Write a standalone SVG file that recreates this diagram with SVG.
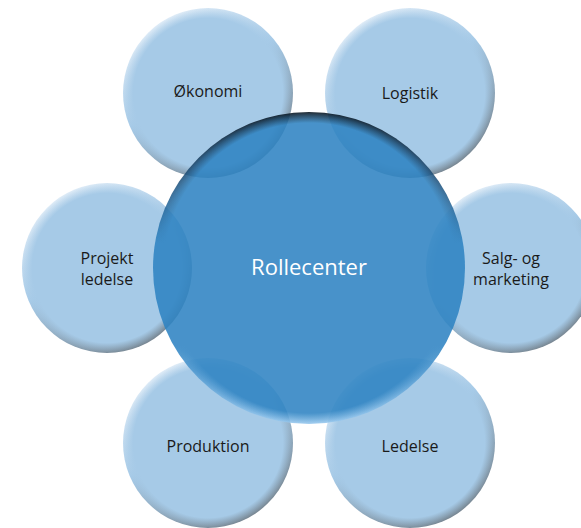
<svg xmlns="http://www.w3.org/2000/svg" xmlns:xlink="http://www.w3.org/1999/xlink" width="581" height="528" viewBox="0 0 581 528">
<defs>
<style>
.rim{fill:url(#outerRim)}
.face{fill:url(#outerFace)}
.lbl{font-family:"Open Sans","Noto Sans","DejaVu Sans",sans-serif;font-size:16px;fill:#1a1a1a;text-anchor:middle}
.clbl{font-family:"Open Sans","Noto Sans","DejaVu Sans",sans-serif;font-size:22px;fill:#ffffff;text-anchor:middle}
</style>
<linearGradient id="outerRim" x1="0.2" y1="0.05" x2="0.75" y2="0.95">
<stop offset="0" stop-color="#e6f0f9"/>
<stop offset="0.45" stop-color="#a6cae7"/>
<stop offset="1" stop-color="#75838e"/>
</linearGradient>
<radialGradient id="outerFace" cx="0.5" cy="0.5" r="0.5">
<stop offset="0.88" stop-color="#a6cae7" stop-opacity="1"/>
<stop offset="1" stop-color="#a6cae7" stop-opacity="0"/>
</radialGradient>
<linearGradient id="centerRim" x1="0" y1="0" x2="0" y2="1">
<stop offset="0" stop-color="#05101a"/>
<stop offset="0.18" stop-color="#1d466a"/>
<stop offset="0.42" stop-color="#2f84c3"/>
<stop offset="0.75" stop-color="#2f84c3"/>
<stop offset="1" stop-color="#9ccbf0"/>
</linearGradient>
<radialGradient id="centerFace" cx="0.5" cy="0.5" r="0.5">
<stop offset="0.93" stop-color="#2f84c3" stop-opacity="1"/>
<stop offset="1" stop-color="#2f84c3" stop-opacity="0"/>
</radialGradient>
</defs>
<rect width="581" height="528" fill="#ffffff"/>
<g id="okonomi">
<circle class="rim" cx="208" cy="93" r="85"/>
<circle class="face" cx="208" cy="93" r="85"/>
</g>
<g id="logistik">
<circle class="rim" cx="410" cy="93" r="85"/>
<circle class="face" cx="410" cy="93" r="85"/>
</g>
<g id="projektledelse">
<circle class="rim" cx="107" cy="268" r="85"/>
<circle class="face" cx="107" cy="268" r="85"/>
</g>
<g id="salgmarketing">
<circle class="rim" cx="511" cy="268" r="85"/>
<circle class="face" cx="511" cy="268" r="85"/>
</g>
<g id="produktion">
<circle class="rim" cx="208" cy="443" r="85"/>
<circle class="face" cx="208" cy="443" r="85"/>
</g>
<g id="ledelse">
<circle class="rim" cx="410" cy="443" r="85"/>
<circle class="face" cx="410" cy="443" r="85"/>
</g>
<g id="rollecenter">
<g opacity="0.88">
<circle cx="309" cy="268" r="156" fill="url(#centerRim)"/>
<circle cx="309" cy="268" r="156" fill="url(#centerFace)"/>
</g>
<text class="clbl" x="309" y="275">Rollecenter</text>
</g>
<g id="labels">
<text class="lbl" x="208" y="97">Økonomi</text>
<text class="lbl" x="410" y="99">Logistik</text>
<text class="lbl" x="107" y="264">Projekt</text>
<text class="lbl" x="107" y="285">ledelse</text>
<text class="lbl" x="511" y="264">Salg- og</text>
<text class="lbl" x="511" y="285">marketing</text>
<text class="lbl" x="208" y="452">Produktion</text>
<text class="lbl" x="410" y="452">Ledelse</text>
</g>
</svg>
